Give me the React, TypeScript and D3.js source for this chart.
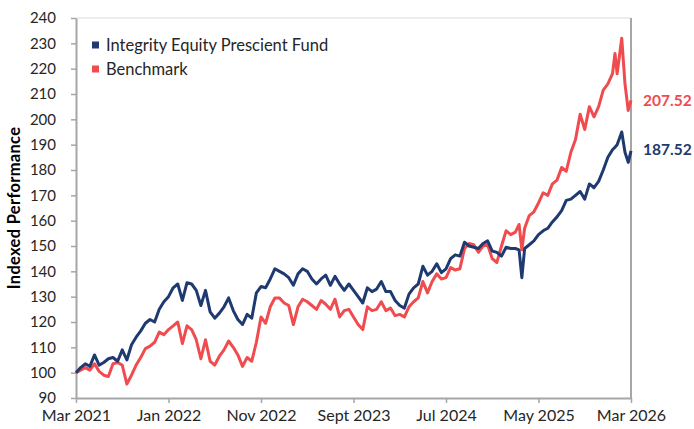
import { useEffect, useRef } from "react";
import * as d3 from "d3";

// months since Mar 2021
const months = [
  0, 0.5, 1, 1.5, 2, 2.5, 3, 3.5, 4, 4.5, 5, 5.5, 6, 6.5, 7, 7.5, 8, 8.5, 9, 9.5,
  10, 10.5, 11, 11.5, 12, 12.5, 13, 13.5, 14, 14.5, 15, 15.5, 16, 16.5, 17, 17.5, 18, 18.5, 19, 19.5,
  20, 20.5, 21, 21.5, 22, 22.5, 23, 23.5, 24, 24.5, 25, 25.5, 26, 26.5, 27, 27.5, 28, 28.5, 29, 29.5,
  30, 30.5, 31, 31.5, 32, 32.5, 33, 33.5, 34, 34.5, 35, 35.5, 36, 36.5, 37, 37.5, 38, 38.5, 39, 39.5,
  40, 40.5, 41, 41.5, 42, 42.5, 43, 43.5, 44, 44.5, 45, 45.5, 46, 46.5, 47, 47.5,
  47.9, 48.2, 48.5, 49, 49.5, 50, 50.5, 51, 51.5, 52, 52.5, 53, 53.5, 54, 54.5, 55, 55.5, 56, 56.5,
  57, 57.5, 58, 58.27, 58.5, 59, 59.35, 59.7, 60,
];

const fund = [
  100, 102, 103.5, 102.5, 107, 103, 104, 105.5, 106, 104.5, 109, 105, 111, 114, 116.5, 119.5, 121, 120, 125, 128,
  130, 133.5, 135, 128.5, 135.5, 135, 132.5, 126.5, 132.5, 124, 121.5, 123.5, 126, 129.5, 124.5, 121, 119, 123, 121.5, 131.5,
  134, 133.5, 137, 141, 140, 139, 137.5, 134.5, 139, 141, 140, 137, 135, 137, 138.5, 134.5, 138, 135, 132.5, 135,
  132.5, 130, 127.5, 133.5, 132, 133, 136, 132, 132, 128.5, 126.5, 125.5, 131, 133.5, 135, 142, 138.5, 140, 143, 139.5,
  141, 145, 146.5, 146, 151.5, 150, 149.5, 149, 151, 152, 148, 147.5, 146, 149.5, 149, 149,
  148.5, 137.5, 149, 150.5, 152, 154.5, 156, 157, 159.5, 161.5, 164, 168, 168.5, 170, 171.5, 168.5, 174.5, 173, 175.5,
  180, 185, 188, 189, 190, 195, 187, 183, 187.52,
];

const benchmark = [
  100, 101, 102, 101, 103.5, 100.5, 99, 98.5, 103.5, 104, 103, 95.5, 99, 103, 106, 109.5, 110.5, 112, 116, 115,
  117, 118.5, 120, 111.5, 118.5, 117, 113, 105.5, 113, 104.5, 103, 106.5, 109, 112.5, 110, 107, 102.5, 106, 104.5, 112,
  122, 119.5, 126, 129.5, 129.5, 127.5, 126.5, 119, 126, 129, 128, 126.5, 125, 128.5, 127, 125, 129, 122, 124.5, 125,
  122, 119, 117, 126, 124.5, 125, 128, 124.5, 125.5, 122.5, 123, 122, 126, 128, 129.5, 136, 131.5, 136, 139, 137,
  137.5, 141.5, 140.5, 141, 149, 151, 150.5, 147.5, 150, 150.5, 145, 143.5, 150, 156, 154.5, 155.5,
  158.5, 148.5, 157, 162, 163.5, 167, 171, 170, 174.5, 176, 181, 179.5, 187, 192, 202, 196, 205, 201, 205,
  211.5, 214, 218, 226, 218, 232, 214, 203.5, 207.52,
];

const seriesNames = ["Integrity Equity Prescient Fund", "Benchmark"];
const seriesColors = ["#1f3a70", "#f04b4f"];
const xTickMonths = [0, 10, 20, 30, 40, 50, 60];
const xTickLabels = ["Mar 2021", "Jan 2022", "Nov 2022", "Sept 2023", "Jul 2024", "May 2025", "Mar 2026"];
const yTicks = [90, 100, 110, 120, 130, 140, 150, 160, 170, 180, 190, 200, 210, 220, 230, 240];

const FONT = "Lato, 'DejaVu Sans', sans-serif";

export default function App() {
  const ref = useRef<SVGSVGElement>(null);

  useEffect(() => {
    const width = 694;
    const height = 429;
    const margin = { top: 18, right: 63, bottom: 31, left: 76 };
    const svg = d3.select(ref.current);
    svg.selectAll("*").remove();

    const x = d3.scaleLinear()
      .domain([0, 60])
      .range([margin.left, width - margin.right]);
    const y = d3.scaleLinear()
      .domain([90, 240])
      .range([height - margin.bottom, margin.top]);

    // frame: top light, right gray
    svg.append("line")
      .attr("x1", margin.left).attr("x2", width - margin.right)
      .attr("y1", margin.top).attr("y2", margin.top)
      .attr("stroke", "#d9d9d9").attr("stroke-width", 1);
    svg.append("line")
      .attr("x1", width - margin.right).attr("x2", width - margin.right)
      .attr("y1", margin.top).attr("y2", height - margin.bottom)
      .attr("stroke", "#a6a6a6").attr("stroke-width", 2);

    const yAxis = svg.append("g")
      .attr("transform", `translate(${margin.left},0)`)
      .call(d3.axisLeft(y).tickValues(yTicks).tickSize(5).tickPadding(15).tickSizeOuter(0));
    const xAxis = svg.append("g")
      .attr("transform", `translate(0,${height - margin.bottom})`)
      .call(d3.axisBottom(x).tickValues(xTickMonths).tickSize(5).tickPadding(7).tickSizeOuter(0)
        .tickFormat((_, i) => xTickLabels[i]));

    [yAxis, xAxis].forEach((g) => {
      g.select(".domain").attr("stroke", "#a6a6a6").attr("stroke-width", 2);
      g.selectAll(".tick line").attr("stroke", "#a6a6a6").attr("stroke-width", 1.5);
      g.selectAll(".tick text")
        .attr("fill", "#262626")
        .style("font-family", FONT)
        .style("font-size", "15px");
    });
    xAxis.selectAll(".tick text").style("font-size", "16px");

    svg.append("text")
      .attr("transform", `translate(20,${(margin.top + height - margin.bottom) / 2}) rotate(-90)`)
      .attr("text-anchor", "middle")
      .style("font-family", FONT)
      .style("font-size", "16.5px")
      .style("font-weight", "bold")
      .style("letter-spacing", "0.3px")
      .attr("fill", "#000")
      .text("Indexed Performance");

    const line = d3.line<number>()
      .x((_, i) => x(months[i]))
      .y((d) => y(d));

    [benchmark, fund].forEach((vals, j) => {
      svg.append("path")
        .datum(vals)
        .attr("fill", "none")
        .attr("stroke", seriesColors[1 - j])
        .attr("stroke-width", 3)
        .attr("stroke-linejoin", "round")
        .attr("d", line);
    });

    // legend
    seriesNames.forEach((name, i) => {
      const ly = 45 + i * 24;
      svg.append("rect")
        .attr("x", 92).attr("y", ly - 3.5)
        .attr("width", 7).attr("height", 7)
        .attr("fill", seriesColors[i]);
      svg.append("text")
        .attr("x", 106).attr("y", ly)
        .attr("dy", "0.35em")
        .style("font-family", FONT)
        .style("font-size", "16.5px")
        .attr("fill", "#262626")
        .text(name);
    });

    // end labels
    const ends = [fund[fund.length - 1], benchmark[benchmark.length - 1]];
    const labelY = [150, 101];
    ends.forEach((v, i) => {
      svg.append("text")
        .attr("x", 643).attr("y", labelY[i])
        .attr("dy", "0.35em")
        .style("font-family", FONT)
        .style("font-size", "15.5px")
        .style("font-weight", "bold")
        .attr("fill", seriesColors[i])
        .text(v.toFixed(2));
    });
  }, []);

  return (
    <svg
      ref={ref}
      width={694}
      height={429}
      style={{ position: "absolute", left: 0, top: 0, background: "#fff" }}
    />
  );
}
